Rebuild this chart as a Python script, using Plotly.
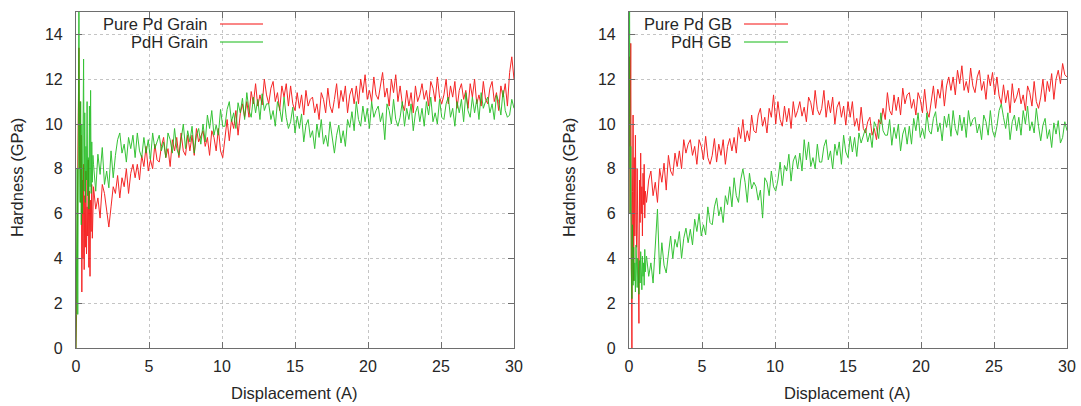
import numpy as np
import plotly.graph_objects as go

# ---------------- data ----------------
# displacement sampling (Angstrom): fine early part, then the regular part
disp_early = np.round(np.arange(0, 1.2, 0.04), 3)            # 30 pts, 0 .. 1.16
disp_main = np.round(1.2 + 0.15 * np.arange(193), 3)          # 193 pts, 1.2 .. 30.0

pd_grain_early = [0.0, 1.5, 5.0, 9.0, 12.5, 13.4, 8.0, 11.0, 6.5, 9.5,
                  2.5, 7.5, 4.0, 8.2, 3.5, 6.8, 4.5, 7.9, 4.2, 6.3,
                  5.0, 8.4, 3.6, 7.0, 3.2, 6.6, 5.2, 7.3, 4.9, 6.7]
pd_grain_main = [
    7.2, 6.2, 6.7, 5.8, 7.3, 6.9, 6.0, 5.4, 6.3, 7.2,
    6.9, 7.7, 6.7, 7.6, 7.2, 8.0, 6.9, 7.8, 8.2, 7.6,
    8.2, 7.5, 8.6, 8.1, 9.0, 7.9, 8.4, 8.0, 9.1, 8.4,
    8.3, 9.0, 9.4, 8.5, 8.9, 8.1, 9.3, 8.8, 9.4, 8.5,
    9.6, 8.8, 8.6, 9.5, 8.8, 9.5, 8.6, 9.8, 9.2, 9.5,
    9.7, 9.0, 9.4, 8.6, 9.7, 9.4, 8.8, 9.8, 8.8, 8.5,
    9.4, 10.2, 9.25, 10.2, 9.8, 10.6, 9.5, 10.45, 10.9, 10.3,
    11.0, 10.3, 11.45, 10.9, 11.8, 10.8, 11.3, 10.85, 12.0, 11.3,
    10.9, 11.6, 11.9, 11.0, 11.4, 10.6, 11.7, 11.2, 11.8, 10.8,
    11.7, 10.9, 10.6, 11.4, 10.7, 11.3, 10.4, 11.5, 10.8, 11.1,
    11.2, 10.5, 10.9, 10.2, 11.4, 11.1, 10.5, 11.6, 10.8, 10.5,
    11.1, 11.8, 10.7, 11.5, 11.0, 11.7, 10.5, 11.3, 11.6, 10.9,
    11.7, 10.9, 12.0, 11.4, 12.2, 11.1, 11.5, 11.0, 12.1, 11.3,
    11.1, 11.8, 12.3, 11.2, 11.6, 10.8, 12.0, 11.4, 12.2, 11.0,
    11.7, 10.9, 10.6, 11.5, 10.8, 11.4, 10.5, 11.7, 11.0, 11.3,
    11.8, 11.1, 11.5, 10.8, 11.9, 11.6, 11.0, 12.1, 11.2, 10.9,
    11.3, 12.0, 10.9, 11.7, 11.2, 11.9, 10.7, 11.5, 11.8, 11.1,
    11.5, 10.7, 11.8, 11.2, 12.0, 10.9, 11.3, 10.8, 11.9, 11.1,
    10.9, 11.6, 11.9, 11.0, 11.4, 10.6, 11.7, 11.2, 11.8, 10.8,
    12.3, 13.0, 12.0]

pdh_grain_early = [0.0, 3.0, 8.0, 1.5, 15.5, 16.0, 9.0, 6.5, 11.0, 5.5,
                   10.0, 6.0, 9.5, 12.9, 7.0, 10.5, 6.5, 9.0, 7.5, 11.0,
                   6.8, 8.5, 6.2, 10.8, 7.2, 11.5, 6.9, 9.2, 7.4, 8.6]
pdh_grain_main = [
    8.2, 7.0, 8.65, 7.75, 8.95, 7.3, 7.9, 7.15, 8.8, 7.6,
    8.6, 9.3, 9.6, 8.7, 9.1, 8.3, 9.4, 8.9, 9.5, 8.5,
    9.6, 8.8, 8.5, 9.4, 8.7, 9.3, 8.4, 9.6, 8.9, 9.2,
    9.5, 8.8, 9.2, 8.5, 9.6, 9.3, 8.7, 9.8, 8.9, 8.6,
    9.3, 10.0, 8.9, 9.7, 9.2, 9.9, 8.7, 9.5, 9.8, 9.1,
    10.0, 9.2, 10.4, 9.8, 10.6, 9.5, 9.95, 9.5, 10.65, 9.9,
    9.9, 10.65, 11.0, 10.1, 10.5, 9.8, 10.95, 10.5, 11.15, 10.2,
    11.4, 10.6, 10.3, 11.2, 10.5, 11.1, 10.2, 11.35, 10.6, 10.9,
    10.9, 10.2, 10.6, 9.9, 11.0, 10.7, 10.1, 11.2, 10.3, 9.8,
    10.1, 10.75, 9.6, 10.35, 9.8, 10.45, 9.2, 9.95, 10.2, 9.4,
    9.7, 8.9, 10.0, 9.4, 10.2, 9.1, 9.5, 9.0, 10.1, 9.3,
    8.7, 9.5, 9.95, 9.15, 9.7, 9.0, 10.2, 9.85, 10.55, 9.7,
    11.0, 10.2, 9.9, 10.8, 10.1, 10.7, 9.8, 11.0, 10.3, 10.6,
    10.8, 10.1, 10.5, 9.3, 10.9, 10.6, 10.0, 11.1, 10.2, 9.9,
    10.3, 11.0, 9.9, 10.7, 10.2, 10.9, 9.7, 10.5, 10.8, 10.1,
    10.7, 9.9, 11.0, 10.4, 11.2, 10.1, 10.5, 10.0, 11.1, 10.3,
    10.2, 10.9, 11.2, 10.3, 10.7, 9.9, 11.0, 10.5, 11.1, 10.1,
    11.4, 10.6, 10.3, 11.2, 10.5, 11.1, 10.2, 11.4, 10.7, 11.0,
    11.2, 10.5, 10.9, 10.2, 11.3, 11.0, 10.4, 11.5, 10.6, 10.3,
    10.4, 11.1, 10.7]

pd_gb_early = [6.0, 13.0, 9.0, 13.6, 4.0, 0.0, 7.0, 10.4, 3.0, 8.5,
               5.0, 9.5, 6.0, 4.5, 8.0, 6.2, 2.5, 1.1, 7.5, 5.6,
               8.7, 6.0, 7.2, 5.0, 7.8, 6.4, 8.2, 5.8, 7.0, 6.6]
pd_gb_main = [
    6.5, 7.5, 7.9, 6.8, 7.4, 6.5, 8.0, 7.4, 8.25, 7.05,
    8.6, 7.9, 7.7, 8.7, 8.1, 8.8, 8.0, 9.3, 8.7, 9.1,
    9.3, 8.6, 9.0, 8.2, 9.3, 9.0, 8.4, 9.45, 8.5, 8.2,
    8.6, 9.35, 8.3, 9.1, 8.6, 9.3, 8.2, 9.0, 9.35, 8.8,
    9.4, 8.7, 9.85, 9.35, 10.2, 9.2, 9.7, 9.25, 10.4, 9.7,
    9.6, 10.4, 10.7, 9.9, 10.3, 9.6, 10.7, 10.3, 11.3, 10.0,
    11.0, 10.2, 9.9, 10.8, 10.1, 10.7, 9.8, 11.0, 10.3, 10.6,
    11.0, 10.35, 10.75, 10.1, 11.2, 10.95, 10.4, 11.5, 10.65, 10.4,
    10.7, 11.5, 10.3, 11.05, 10.5, 11.2, 10.0, 10.75, 11.0, 10.3,
    10.8, 9.95, 11.0, 10.3, 11.0, 9.9, 10.25, 9.7, 10.75, 9.8,
    9.6, 10.1, 10.3, 9.5, 9.8, 9.3, 10.2, 10.0, 10.7, 10.2,
    11.4, 10.6, 10.4, 11.3, 10.6, 11.2, 10.4, 11.6, 10.9, 11.3,
    11.4, 10.7, 11.1, 10.4, 11.4, 11.1, 10.5, 11.55, 10.6, 10.3,
    10.9, 11.7, 10.7, 11.55, 11.15, 11.95, 10.8, 11.7, 12.1, 11.5,
    12.1, 11.3, 12.4, 11.8, 12.6, 11.5, 11.9, 11.4, 12.5, 11.7,
    11.4, 12.1, 12.4, 11.5, 11.9, 11.1, 12.2, 11.7, 12.3, 11.3,
    12.1, 11.25, 10.9, 11.75, 10.95, 11.5, 10.5, 11.8, 10.95, 11.2,
    11.6, 10.9, 11.3, 10.6, 11.7, 11.4, 10.8, 11.9, 11.0, 10.7,
    11.2, 12.0, 11.0, 11.9, 11.45, 12.25, 11.1, 12.0, 12.4, 11.8,
    12.7, 12.2, 12.1]

pdh_gb_early = [8.0, 15.5, 6.0, 9.0, 3.5, 2.2, 5.5, 2.8, 4.5, 3.0,
                3.8, 2.5, 4.6, 3.1, 2.7, 4.0, 3.3, 2.4, 3.9, 2.9,
                4.3, 3.5, 2.6, 4.1, 3.2, 3.8, 2.8, 4.4, 3.4, 3.9]
pdh_gb_main = [
    4.1, 3.2, 3.8, 2.9, 4.4, 6.2, 3.3, 4.7, 3.7, 3.35,
    4.2, 5.0, 4.0, 4.85, 4.5, 5.2, 4.0, 4.9, 5.35, 4.7,
    5.3, 4.6, 5.75, 5.2, 6.0, 5.0, 5.5, 5.05, 6.3, 5.6,
    5.5, 6.3, 6.7, 5.9, 6.3, 5.6, 6.8, 6.4, 7.2, 6.3,
    7.6, 6.8, 6.5, 7.5, 8.0, 7.4, 6.5, 7.8, 7.1, 7.4,
    7.2, 6.6, 7.05, 5.8, 7.6, 7.4, 6.8, 7.9, 7.2, 7.0,
    7.5, 8.3, 7.25, 8.15, 7.9, 8.65, 7.45, 8.35, 8.6, 8.0,
    8.7, 7.9, 9.3, 8.4, 9.2, 8.1, 8.5, 8.0, 9.1, 8.3,
    8.3, 9.0, 9.3, 8.4, 8.8, 8.0, 9.1, 8.6, 9.2, 8.2,
    9.5, 8.75, 8.5, 9.45, 8.75, 9.4, 8.55, 9.6, 9.15, 9.5,
    9.8, 9.2, 9.6, 8.95, 10.1, 9.85, 9.35, 10.5, 9.7, 9.5,
    9.5, 10.2, 9.05, 9.85, 9.35, 10.0, 8.8, 9.55, 9.85, 9.1,
    9.9, 9.1, 10.25, 9.7, 10.5, 9.4, 9.8, 9.35, 10.5, 9.7,
    9.55, 10.25, 10.55, 9.65, 10.05, 9.25, 10.35, 9.85, 10.45, 9.45,
    10.6, 9.8, 9.5, 10.4, 9.7, 10.3, 9.4, 10.6, 9.9, 10.2,
    10.3, 9.6, 10.0, 9.3, 10.4, 10.1, 9.5, 10.6, 9.7, 9.4,
    9.9, 10.6, 10.9, 10.3, 9.8, 10.5, 9.3, 10.1, 10.4, 9.7,
    10.3, 9.5, 10.6, 10.0, 10.8, 9.7, 10.1, 9.6, 10.7, 9.9,
    9.25, 9.95, 10.25, 9.35, 9.75, 8.95, 10.05, 9.55, 10.15, 9.15,
    9.4, 10.1, 9.7]

for arr in (pd_grain_early, pdh_grain_early, pd_gb_early, pdh_gb_early):
    assert len(arr) == len(disp_early), len(arr)
for arr in (pd_grain_main, pdh_grain_main, pd_gb_main, pdh_gb_main):
    assert len(arr) == len(disp_main), len(arr)

x_tick_vals = [0, 5, 10, 15, 20, 25, 30]
y_tick_vals = [0, 2, 4, 6, 8, 10, 12, 14]
x_title = "Displacement (A)"
y_title = "Hardness (GPa)"

panels = [
    ("Pure Pd Grain", pd_grain_early + pd_grain_main,
     "PdH Grain", pdh_grain_early + pdh_grain_main),
    ("Pure Pd GB", pd_gb_early + pd_gb_main,
     "PdH GB", pdh_gb_early + pdh_gb_main),
]

# ---------------- figure ----------------
W, H = 1081, 406
RED = "rgb(245,15,15)"
GREEN = "rgb(20,185,20)"
FONT = "Liberation Sans, Arial, sans-serif"
TXT = "#262626"
FS = 16.5

x_px = [(76, 514), (629, 1067)]
y_top, y_bot = 12, 348

disp = np.concatenate([disp_early, disp_main])

fig = go.Figure()
for k, (n1, y1, n2, y2) in enumerate(panels):
    xa = "x" if k == 0 else "x2"
    ya = "y" if k == 0 else "y2"
    fig.add_trace(go.Scatter(x=disp, y=y1, mode="lines", name=n1,
                             line=dict(color=RED, width=1), opacity=0.9,
                             xaxis=xa, yaxis=ya, showlegend=False))
    fig.add_trace(go.Scatter(x=disp, y=y2, mode="lines", name=n2,
                             line=dict(color=GREEN, width=1), opacity=0.85,
                             xaxis=xa, yaxis=ya, showlegend=False))

axis_common = dict(
    showline=True, mirror="ticks", linecolor="#6e6e6e", linewidth=1.2,
    ticks="inside", ticklen=6, tickcolor="#6e6e6e",
    showgrid=True, gridcolor="#c4c4c4", griddash="dot", gridwidth=1,
    zeroline=False, tickfont=dict(family=FONT, size=16, color=TXT),
    automargin=False,
)

layout = dict(
    template="none",
    width=W, height=H, margin=dict(l=0, r=0, t=0, b=0, pad=0),
    paper_bgcolor="white", plot_bgcolor="white",
    font=dict(family=FONT, color=TXT),
    showlegend=False,
)
yd = [1 - y_bot / H, 1 - y_top / H]
for k in range(2):
    sx = "" if k == 0 else "2"
    xd = [x_px[k][0] / W, x_px[k][1] / W]
    layout["xaxis" + sx] = dict(axis_common, domain=xd, range=[0, 30],
                                tickvals=x_tick_vals, anchor="y" + sx,
                                ticklabelstandoff=4)
    layout["yaxis" + sx] = dict(axis_common, domain=yd, range=[0, 15],
                                tickvals=y_tick_vals, anchor="x" + sx,
                                ticklabelstandoff=9)
fig.update_layout(**layout)

# axis titles
x_title_cx = [294, 847]
y_title_cx = [17, 569]
for k in range(2):
    fig.add_annotation(x=x_title_cx[k] / W, y=1 - 393 / H, xref="paper", yref="paper",
                       text=x_title, showarrow=False, xanchor="center", yanchor="middle",
                       font=dict(family=FONT, size=FS, color=TXT))
    fig.add_annotation(x=y_title_cx[k] / W, y=1 - 178 / H, xref="paper", yref="paper",
                       text=y_title, showarrow=False, xanchor="center", yanchor="middle",
                       textangle=-90, font=dict(family=FONT, size=FS, color=TXT))

# gnuplot-style key: text right-aligned, sample line to its right
keys = [(210, 220, 263), (734, 744, 788)]
for k, (n1, _, n2, _) in enumerate(panels):
    tx, l0, l1 = keys[k]
    for name, ypx, col in ((n1, 24, RED), (n2, 42, GREEN)):
        fig.add_annotation(x=tx / W, y=1 - ypx / H, xref="paper", yref="paper",
                           text=name, showarrow=False, xanchor="right",
                           yanchor="middle",
                           font=dict(family=FONT, size=FS, color=TXT))
        fig.add_shape(type="line", xref="paper", yref="paper",
                      x0=l0 / W, x1=l1 / W, y0=1 - ypx / H, y1=1 - ypx / H,
                      line=dict(color=col, width=1))

fig.write_html("out.html")
